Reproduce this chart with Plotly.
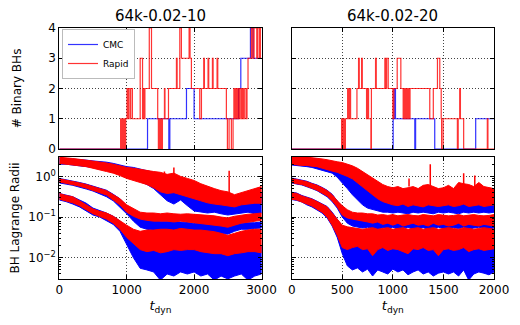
import plotly.graph_objects as go
from plotly.subplots import make_subplots

# ---- top row: number of binary BHs (step data) ----
bbh_left_cmc_t = [0, 1309, 1625, 1640, 1887, 2000, 2660, 2693, 2836, 2875, 3000]
bbh_left_cmc_n = [0, 1, 0, 1, 2, 1, 2, 3, 4, 3, 3]

bbh_left_rapid_t = [0, 910, 918, 926, 934, 942, 955, 962, 975, 985,
                    1005, 1020, 1028, 1050, 1060, 1085, 1200, 1235, 1245, 1260, 1270,
                    1335, 1368, 1460, 1470, 1478, 1486, 1494, 1502, 1512, 1520, 1530,
                    1560, 1568, 1620, 1738, 1748, 1788, 1812, 1926, 1940, 1960,
                    2084, 2109, 2143, 2153, 2207, 2217, 2272, 2282, 2341, 2351,
                    2479, 2494, 2519, 2553, 2578, 2590, 2605, 2620, 2635, 2650, 2665,
                    2680, 2700, 2715, 2730, 2745, 2770, 2785, 2800, 2850, 2870, 2890,
                    2930, 2945, 2970, 2985, 3000]
bbh_left_rapid_n = [0, 1, 0, 1, 0, 1, 0, 1, 0, 1,
                    2, 1, 2, 1, 2, 1, 3, 1, 2, 1, 2,
                    4, 2, 1, 0, 1, 0, 1, 0, 1, 0, 1,
                    2, 1, 2, 3, 2, 4, 3, 4, 3, 2,
                    1, 2, 3, 2, 3, 2, 3, 2, 3, 2,
                    1, 0, 1, 0, 1, 2, 1, 2, 1, 2, 1,
                    2, 1, 2, 1, 2, 1, 2, 3, 4, 3, 4,
                    3, 4, 3, 4, 4]

bbh_right_cmc_t = [0, 1003, 1013, 1026, 1217, 1225, 1414, 1819, 2000]
bbh_right_cmc_n = [0, 1, 2, 1, 0, 1, 0, 1, 1]

bbh_right_rapid_t = [0, 493, 500, 506, 512, 518, 525, 531, 553, 558, 564, 570, 576, 582,
                     645, 661, 668, 691, 698, 740, 745, 750, 756, 760, 783, 788,
                     829, 836, 921, 928, 938, 954, 1000, 1010, 1043, 1079, 1102, 1110,
                     1118, 1128, 1138, 1150, 1160, 1170, 1365, 1400, 1441, 1464, 1478,
                     1482, 1497, 1638, 1646, 1661, 1668, 1700, 1934, 1940, 2000]
bbh_right_rapid_n = [0, 1, 0, 1, 0, 1, 0, 1, 2, 1, 2, 1, 2, 1,
                     2, 3, 2, 3, 2, 1, 2, 1, 2, 1, 0, 2,
                     3, 2, 3, 2, 3, 2, 1, 2, 3, 2, 1, 2,
                     1, 2, 1, 2, 1, 2, 1, 2, 3, 2, 1,
                     0, 1, 0, 1, 2, 1, 0, 1, 0, 0]

# ---- bottom row: BH Lagrange radii, log10 envelopes of the noisy bands ----
t_left = list(range(0, 3001, 100))
t_right = list(range(0, 2001, 50))

# left panel (64k-0.02-10)
L_cmc_outer_hi = [0.45, 0.44, 0.43, 0.42, 0.40, 0.38, 0.37, 0.35, 0.32, 0.28, 0.24, 0.22, 0.18, 0.14, 0.10, 0.05,
                  0.02, -0.05, -0.12, -0.20, -0.30, -0.35, -0.40, -0.45, -0.50, -0.55, -0.50, -0.48, -0.45, -0.42, -0.40]
L_cmc_outer_lo = [0.30, 0.30, 0.28, 0.26, 0.24, 0.22, 0.18, 0.15, 0.10, 0.05, 0.00, -0.06, -0.12, -0.20, -0.30, -0.45,
                  -0.60, -0.68, -0.58, -0.72, -0.85, -0.88, -0.90, -0.88, -0.92, -0.95, -0.93, -0.90, -0.88, -0.92, -0.90]
L_cmc_mid_hi = [-0.05, -0.08, -0.11, -0.15, -0.19, -0.24, -0.29, -0.34, -0.44, -0.55, -0.72, -0.88, -1.00, -1.05, -1.08, -1.10,
                -1.10, -1.12, -1.12, -1.14, -1.15, -1.14, -1.16, -1.18, -1.18, -1.20, -1.18, -1.15, -1.14, -1.14, -1.12]
L_cmc_mid_lo = [-0.16, -0.19, -0.22, -0.26, -0.31, -0.36, -0.42, -0.50, -0.60, -0.75, -0.92, -1.10, -1.25, -1.30, -1.32, -1.35,
                -1.35, -1.37, -1.35, -1.38, -1.39, -1.38, -1.40, -1.40, -1.40, -1.42, -1.35, -1.30, -1.30, -1.28, -1.27]
L_cmc_in_hi = [-0.42, -0.46, -0.50, -0.58, -0.66, -0.78, -0.84, -0.90, -0.98, -1.10, -1.25, -1.40, -1.50, -1.55, -1.60, -1.60,
               -1.60, -1.62, -1.65, -1.65, -1.70, -1.70, -1.70, -1.72, -1.75, -1.75, -1.72, -1.70, -1.72, -1.70, -1.72]
L_cmc_in_lo = [-0.58, -0.62, -0.68, -0.75, -0.85, -0.95, -1.00, -1.08, -1.18, -1.35, -1.68, -2.00, -2.26, -2.30, -2.35, -2.55,
               -2.40, -2.45, -2.35, -2.40, -2.35, -2.45, -2.40, -2.55, -2.45, -2.52, -2.45, -2.40, -2.55, -2.45, -2.40]

L_rap_outer_hi = [0.47, 0.46, 0.44, 0.42, 0.40, 0.38, 0.36, 0.33, 0.30, 0.26, 0.22, 0.20, 0.17, 0.14, 0.12, 0.10,
                  0.05, 0.08, 0.00, -0.05, -0.10, -0.18, -0.25, -0.30, -0.35, -0.38, -0.45, -0.40, -0.35, -0.30, -0.25]
L_rap_outer_lo = [0.32, 0.30, 0.28, 0.26, 0.24, 0.20, 0.16, 0.12, 0.08, 0.02, -0.05, -0.10, -0.15, -0.20, -0.28, -0.38,
                  -0.42, -0.40, -0.45, -0.50, -0.55, -0.60, -0.65, -0.68, -0.70, -0.72, -0.75, -0.70, -0.68, -0.66, -0.66]
L_rap_mid_hi = [-0.06, -0.09, -0.12, -0.16, -0.20, -0.25, -0.30, -0.35, -0.45, -0.55, -0.70, -0.80, -0.88, -0.90, -0.90, -0.92,
                -0.90, -0.92, -0.93, -0.92, -0.93, -0.95, -0.95, -0.97, -1.00, -1.02, -0.98, -0.95, -0.93, -0.92, -0.90]
L_rap_mid_lo = [-0.14, -0.17, -0.20, -0.24, -0.29, -0.34, -0.40, -0.46, -0.57, -0.70, -0.88, -0.98, -1.05, -1.08, -1.10, -1.10,
                -1.10, -1.12, -1.10, -1.12, -1.13, -1.15, -1.17, -1.20, -1.22, -1.25, -1.20, -1.15, -1.12, -1.10, -1.08]
L_rap_in_hi = [-0.42, -0.47, -0.50, -0.60, -0.68, -0.80, -0.86, -0.90, -0.98, -1.10, -1.20, -1.30, -1.35, -1.32, -1.32, -1.30,
               -1.30, -1.32, -1.28, -1.30, -1.32, -1.32, -1.34, -1.36, -1.40, -1.45, -1.40, -1.35, -1.32, -1.30, -1.30]
L_rap_in_lo = [-0.56, -0.60, -0.65, -0.72, -0.82, -0.92, -0.98, -1.05, -1.15, -1.30, -1.50, -1.65, -1.80, -1.85, -1.82, -1.88,
               -1.85, -1.80, -1.82, -1.80, -1.80, -1.85, -1.88, -1.90, -1.90, -1.95, -1.90, -1.88, -1.85, -1.85, -1.88]
# isolated thin spikes above the outer Rapid band (time, log10 base, log10 tip)
L_rap_spike_t = [1700, 1560, 2520]
L_rap_spike_base = [0.0, 0.0, -0.4]
L_rap_spike_tip = [0.22, 0.12, 0.14]

# right panel (64k-0.02-20)
R_cmc_outer_hi = [0.47, 0.47, 0.46, 0.46, 0.44, 0.43, 0.40, 0.36, 0.32, 0.27, 0.22, 0.14, 0.05, -0.05, -0.15, -0.30,
                  -0.45, -0.52, -0.55, -0.58, -0.60, -0.62, -0.58, -0.62, -0.60, -0.63, -0.58, -0.60, -0.62, -0.60, -0.62,
                  -0.58, -0.60, -0.63, -0.60, -0.58, -0.62, -0.60, -0.58, -0.60, -0.62]
R_cmc_outer_lo = [0.28, 0.27, 0.25, 0.24, 0.22, 0.19, 0.15, 0.12, 0.08, -0.02, -0.15, -0.30, -0.45, -0.58, -0.70, -0.78,
                  -0.82, -0.85, -0.88, -0.88, -0.90, -0.88, -0.90, -0.92, -0.88, -0.90, -0.88, -0.90, -0.92, -0.88, -0.90,
                  -0.88, -0.90, -0.92, -0.88, -0.90, -0.88, -0.90, -0.88, -0.90, -0.88]
R_cmc_mid_hi = [-0.04, -0.07, -0.09, -0.12, -0.17, -0.21, -0.27, -0.34, -0.44, -0.60, -0.75, -0.92, -0.98, -1.00, -1.02, -1.00,
                -1.02, -1.04, -1.02, -1.00, -1.04, -1.02, -1.00, -1.04, -1.02, -1.00, -1.02, -1.04, -1.00, -1.02, -1.00,
                -1.02, -1.04, -1.00, -1.02, -1.00, -1.02, -1.04, -1.00, -1.02, -1.02]
R_cmc_mid_lo = [-0.16, -0.19, -0.21, -0.25, -0.30, -0.35, -0.42, -0.50, -0.62, -0.78, -1.00, -1.15, -1.22, -1.25, -1.27, -1.25,
                -1.28, -1.30, -1.26, -1.28, -1.25, -1.30, -1.27, -1.25, -1.30, -1.28, -1.26, -1.30, -1.27, -1.25, -1.28,
                -1.30, -1.26, -1.28, -1.25, -1.30, -1.27, -1.25, -1.28, -1.30, -1.27]
R_cmc_in_hi = [-0.39, -0.41, -0.47, -0.51, -0.55, -0.61, -0.67, -0.74, -0.88, -1.05, -1.25, -1.40, -1.45, -1.48, -1.50, -1.45,
               -1.50, -1.52, -1.48, -1.50, -1.45, -1.50, -1.52, -1.48, -1.50, -1.55, -1.48, -1.50, -1.52, -1.48, -1.50,
               -1.55, -1.50, -1.48, -1.52, -1.50, -1.48, -1.55, -1.50, -1.52, -1.50]
R_cmc_in_lo = [-0.57, -0.59, -0.63, -0.70, -0.75, -0.82, -0.90, -1.02, -1.22, -1.50, -1.90, -2.20, -2.30, -2.25, -2.35, -2.28,
               -2.45, -2.30, -2.35, -2.40, -2.28, -2.35, -2.30, -2.42, -2.35, -2.30, -2.40, -2.35, -2.45, -2.38, -2.35,
               -2.40, -2.35, -2.45, -2.30, -2.55, -2.40, -2.35, -2.38, -2.42, -2.35]

R_rap_outer_hi = [0.48, 0.48, 0.47, 0.48, 0.46, 0.45, 0.43, 0.41, 0.38, 0.36, 0.34, 0.30, 0.26, 0.20, 0.12, 0.05,
                  -0.05, -0.12, -0.20, -0.25, -0.28, -0.25, -0.30, -0.28, -0.25, -0.30, -0.22, -0.20, -0.25, -0.30, -0.28,
                  -0.22, -0.30, -0.15, -0.18, -0.20, -0.25, -0.15, -0.25, -0.28, -0.30]
R_rap_outer_lo = [0.30, 0.28, 0.27, 0.27, 0.25, 0.24, 0.20, 0.17, 0.13, 0.10, 0.06, 0.00, -0.06, -0.14, -0.25, -0.35,
                  -0.45, -0.55, -0.62, -0.66, -0.70, -0.72, -0.68, -0.74, -0.70, -0.72, -0.75, -0.70, -0.72, -0.74, -0.72,
                  -0.70, -0.74, -0.72, -0.68, -0.74, -0.72, -0.70, -0.74, -0.72, -0.70]
R_rap_mid_hi = [-0.05, -0.08, -0.10, -0.13, -0.18, -0.22, -0.28, -0.35, -0.45, -0.60, -0.72, -0.82, -0.88, -0.90, -0.90, -0.92,
                -0.92, -0.95, -0.94, -0.96, -0.94, -0.97, -0.95, -0.94, -0.96, -0.97, -0.94, -0.96, -0.97, -0.94, -0.96,
                -0.97, -0.96, -0.94, -0.97, -0.96, -0.94, -0.96, -0.97, -0.96, -0.94]
R_rap_mid_lo = [-0.15, -0.18, -0.20, -0.24, -0.29, -0.34, -0.40, -0.48, -0.60, -0.75, -0.95, -1.02, -1.05, -1.08, -1.10, -1.12,
                -1.15, -1.12, -1.18, -1.15, -1.20, -1.15, -1.22, -1.18, -1.15, -1.20, -1.18, -1.22, -1.15, -1.20, -1.18,
                -1.22, -1.20, -1.15, -1.22, -1.18, -1.20, -1.22, -1.18, -1.20, -1.22]
R_rap_in_hi = [-0.40, -0.42, -0.48, -0.52, -0.56, -0.62, -0.68, -0.75, -0.90, -1.05, -1.20, -1.24, -1.26, -1.28, -1.30, -1.28,
               -1.26, -1.30, -1.28, -1.26, -1.30, -1.28, -1.26, -1.30, -1.28, -1.26, -1.30, -1.28, -1.26, -1.30, -1.28,
               -1.26, -1.28, -1.30, -1.26, -1.28, -1.30, -1.28, -1.26, -1.28, -1.30]
R_rap_in_lo = [-0.56, -0.58, -0.62, -0.68, -0.73, -0.80, -0.88, -1.00, -1.20, -1.45, -1.75, -1.80, -1.75, -1.72, -1.80, -1.78,
               -1.95, -1.80, -1.75, -1.82, -1.78, -1.80, -1.85, -1.90, -1.78, -1.80, -1.75, -1.82, -1.80, -1.95, -1.80,
               -1.78, -1.82, -1.80, -1.75, -1.85, -1.80, -1.78, -1.82, -1.80, -1.78]
R_rap_spike_t = [1370, 1700, 1810, 1160]
R_rap_spike_base = [-0.25, -0.25, -0.25, -0.25]
R_rap_spike_tip = [0.30, 0.08, 0.02, -0.05]

BLUE = '#0000ff'
RED = '#ff0000'

fig = make_subplots(rows=2, cols=2)

# step traces
fig.add_trace(go.Scatter(x=bbh_left_cmc_t, y=bbh_left_cmc_n, mode='lines', line_shape='hv',
                         line=dict(color=BLUE, width=1.2), opacity=0.8, name='CMC'), row=1, col=1)
fig.add_trace(go.Scatter(x=bbh_left_rapid_t, y=bbh_left_rapid_n, mode='lines', line_shape='hv',
                         line=dict(color=RED, width=1.2), opacity=0.8, name='Rapid'), row=1, col=1)
fig.add_trace(go.Scatter(x=bbh_right_cmc_t, y=bbh_right_cmc_n, mode='lines', line_shape='hv',
                         line=dict(color=BLUE, width=1.2), opacity=0.8, showlegend=False), row=1, col=2)
fig.add_trace(go.Scatter(x=bbh_right_rapid_t, y=bbh_right_rapid_n, mode='lines', line_shape='hv',
                         line=dict(color=RED, width=1.2), opacity=0.8, showlegend=False), row=1, col=2)


def band(t, hi, lo, color, col):
    xs = t + t[::-1]
    ys = [10 ** v for v in hi] + [10 ** v for v in lo[::-1]]
    fig.add_trace(go.Scatter(x=xs, y=ys, mode='lines', fill='toself', fillcolor=color,
                             line=dict(color=color, width=1), showlegend=False), row=2, col=col)


def spikes(ts, base, tip, color, col):
    xs, ys = [], []
    for t, b, p in zip(ts, base, tip):
        xs += [t, t, None]
        ys += [10 ** b, 10 ** p, None]
    fig.add_trace(go.Scatter(x=xs, y=ys, mode='lines', line=dict(color=color, width=1.5),
                             showlegend=False), row=2, col=col)


for hi, lo in [(L_cmc_outer_hi, L_cmc_outer_lo), (L_cmc_mid_hi, L_cmc_mid_lo), (L_cmc_in_hi, L_cmc_in_lo)]:
    band(t_left, hi, lo, BLUE, 1)
for hi, lo in [(L_rap_outer_hi, L_rap_outer_lo), (L_rap_mid_hi, L_rap_mid_lo), (L_rap_in_hi, L_rap_in_lo)]:
    band(t_left, hi, lo, RED, 1)
spikes(L_rap_spike_t, L_rap_spike_base, L_rap_spike_tip, RED, 1)
for hi, lo in [(R_cmc_outer_hi, R_cmc_outer_lo), (R_cmc_mid_hi, R_cmc_mid_lo), (R_cmc_in_hi, R_cmc_in_lo)]:
    band(t_right, hi, lo, BLUE, 2)
for hi, lo in [(R_rap_outer_hi, R_rap_outer_lo), (R_rap_mid_hi, R_rap_mid_lo), (R_rap_in_hi, R_rap_in_lo)]:
    band(t_right, hi, lo, RED, 2)
spikes(R_rap_spike_t, R_rap_spike_base, R_rap_spike_tip, RED, 2)

axis_style = dict(showline=True, linecolor='black', linewidth=1, mirror='ticks',
                  ticks='inside', ticklen=4, tickcolor='black',
                  showgrid=True, gridcolor='#444444', griddash='1px,2px', gridwidth=1,
                  zeroline=False, automargin=False, tickfont=dict(size=12, color='black'))

# the page body adds an 8px offset, so the figure is 512x317 and domains are shifted by it
W, H = 512, 317
xl = [(59.3 - 8) / W, (261.5 - 8) / W]
xr = [(291.7 - 8) / W, (494 - 8) / W]
yt = [1 - (149 - 8) / H, 1 - (28 - 8) / H]
yb = [1 - (279 - 8) / H, 1 - (157 - 8) / H]

fig.update_xaxes(axis_style)
fig.update_yaxes(axis_style)
fig.update_xaxes(domain=xl, range=[0, 3000], tickvals=[0, 1000, 2000, 3000], col=1)
fig.update_xaxes(domain=xr, range=[0, 2000], tickvals=[0, 500, 1000, 1500, 2000], col=2)
fig.update_xaxes(showticklabels=False, row=1)
fig.update_xaxes(title=dict(text='<i>t</i><sub>dyn</sub>', font=dict(size=13), standoff=4), row=2)
fig.update_yaxes(domain=yt, range=[0, 4], tickvals=[0, 1, 2, 3, 4], row=1)
fig.update_yaxes(title=dict(text='# Binary BHs', font=dict(size=12), standoff=24), row=1, col=1)

minor_vals = [0.004, 0.005, 0.006, 0.007, 0.008, 0.009,
              0.02, 0.03, 0.04, 0.05, 0.06, 0.07, 0.08, 0.09,
              0.2, 0.3, 0.4, 0.5, 0.6, 0.7, 0.8, 0.9, 2, 3]
fig.update_yaxes(type='log', domain=yb, range=[-2.523, 0.477],
                 tickmode='array', tickvals=[0.01, 0.1, 1],
                 ticktext=['10<sup>\u22122</sup>', '10<sup>\u22121</sup>', '10<sup>0</sup>'],
                 minor=dict(tickmode='array', tickvals=minor_vals, ticks='inside', ticklen=2,
                            tickcolor='black', showgrid=False),
                 row=2)
fig.update_yaxes(title=dict(text='BH Lagrange Radii', font=dict(size=12), standoff=12), row=2, col=1)
fig.update_yaxes(showticklabels=False, col=2)

fig.add_annotation(text='64k-0.02-10', x=(xl[0] + xl[1]) / 2, y=1 - 8 / H, xref='paper', yref='paper',
                   xanchor='center', yanchor='middle', showarrow=False, font=dict(size=15, color='black'))
fig.add_annotation(text='64k-0.02-20', x=(xr[0] + xr[1]) / 2, y=1 - 8 / H, xref='paper', yref='paper',
                   xanchor='center', yanchor='middle', showarrow=False, font=dict(size=15, color='black'))

fig.update_layout(
    width=W, height=H,
    margin=dict(l=0, r=0, t=0, b=0, autoexpand=False),
    paper_bgcolor='white', plot_bgcolor='white',
    font=dict(family='DejaVu Sans', color='black'),
    legend=dict(x=(62 - 8) / W, y=1 - (29 - 8) / H, xanchor='left', yanchor='top',
                bgcolor='white', bordercolor='#bbbbbb', borderwidth=1,
                font=dict(size=9), itemwidth=30, tracegroupgap=0),
)

fig.write_html("out.html")
